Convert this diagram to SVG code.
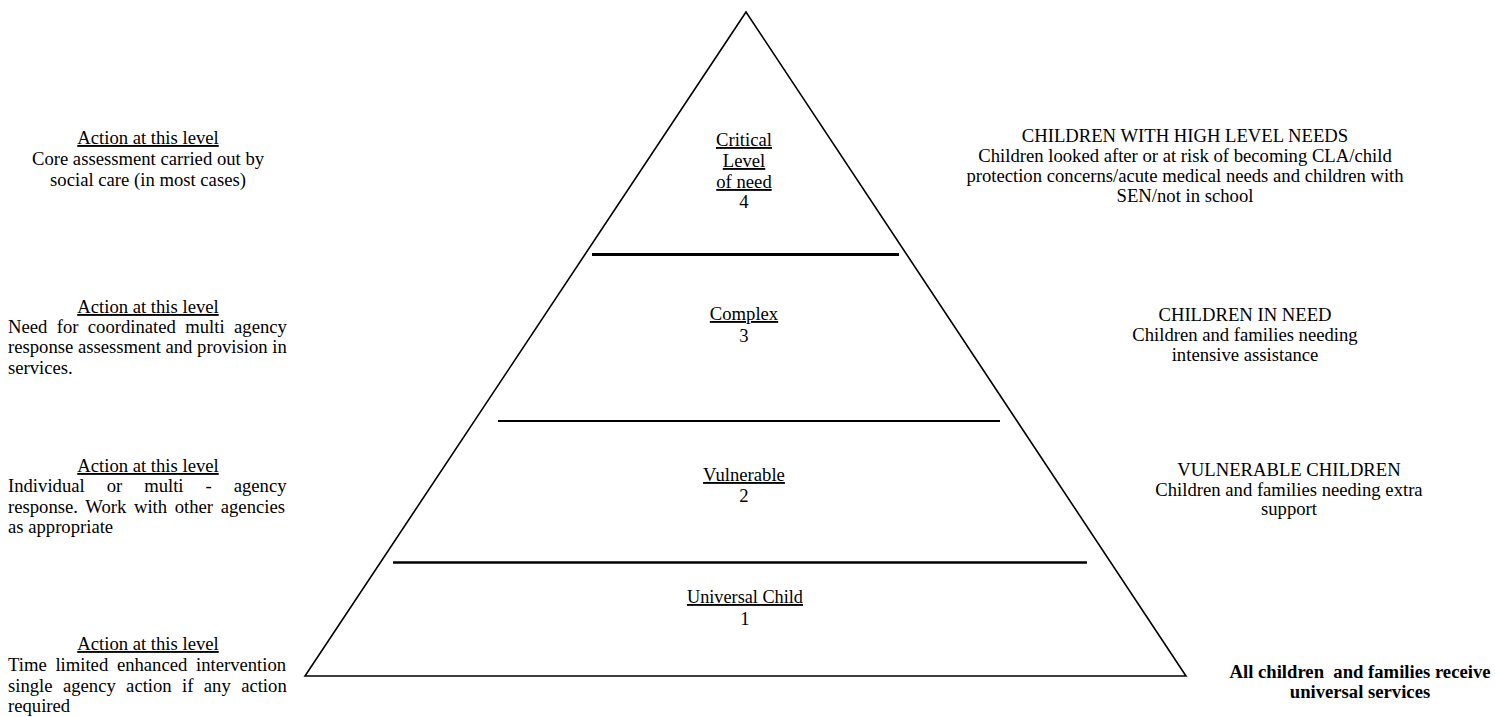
<svg xmlns="http://www.w3.org/2000/svg" width="1495" height="717" viewBox="0 0 1495 717">
<style>
text{font-family:"Liberation Serif","Times New Roman",serif;font-size:18.67px;fill:#000}
.c{text-anchor:middle}
.u{text-decoration:underline}
.b{font-weight:bold}
.edge{fill:none;stroke:#000;stroke-width:1.6}
.div{stroke:#000}
</style>
<rect width="1495" height="717" fill="#fff"/>
<g id="pyramid">
<polygon class="edge" points="746,12 305,676 1186,676"/>
</g>
<g id="dividers">
<line class="div" x1="592" y1="254.5" x2="899" y2="254.5" stroke-width="3"/>
<line class="div" x1="498" y1="421" x2="1000" y2="421" stroke-width="2"/>
<line class="div" x1="393" y1="562.5" x2="1087" y2="562.5" stroke-width="2.5"/>
</g>
<g id="level4">
<text class="c u" x="744" y="146">Critical</text>
<text class="c u" x="744" y="167">Level</text>
<text class="c u" x="744" y="188">of need</text>
<text class="c" x="744" y="208">4</text>
</g>
<g id="level3">
<text class="c u" x="744" y="320">Complex</text>
<text class="c" x="744" y="342">3</text>
</g>
<g id="level2">
<text class="c u" x="744" y="481">Vulnerable</text>
<text class="c" x="744" y="502">2</text>
</g>
<g id="level1">
<text class="c u" x="745" y="603" textLength="116" lengthAdjust="spacingAndGlyphs">Universal Child</text>
<text class="c" x="745" y="625">1</text>
</g>
<g id="action4">
<text class="c u" x="148" y="144">Action at this level</text>
<text class="c" x="148" y="165">Core assessment carried out by</text>
<text class="c" x="148" y="186">social care (in most cases)</text>
</g>
<g id="action3">
<text class="c u" x="148" y="313">Action at this level</text>
<text x="8" y="333" word-spacing="4.7">Need for coordinated multi agency</text>
<text x="8" y="353">response assessment and provision in</text>
<text x="8" y="374">services.</text>
</g>
<g id="action2">
<text class="c u" x="148" y="472">Action at this level</text>
<text x="8" y="492" word-spacing="17.3">Individual or multi - agency</text>
<text x="8" y="513" word-spacing="3">response. Work with other agencies</text>
<text x="8" y="533">as appropriate</text>
</g>
<g id="action1">
<text class="c u" x="148" y="650">Action at this level</text>
<text x="8" y="671" word-spacing="4">Time limited enhanced intervention</text>
<text x="8" y="692" word-spacing="5.7">single agency action if any action</text>
<text x="8" y="712">required</text>
</g>
<g id="needs4">
<text class="c" x="1185" y="142">CHILDREN WITH HIGH LEVEL NEEDS</text>
<text class="c" x="1185" y="162">Children looked after or at risk of becoming CLA/child</text>
<text class="c" x="1185" y="182">protection concerns/acute medical needs and children with</text>
<text class="c" x="1185" y="202">SEN/not in school</text>
</g>
<g id="needs3">
<text class="c" x="1245" y="321">CHILDREN IN NEED</text>
<text class="c" x="1245" y="341">Children and families needing</text>
<text class="c" x="1245" y="361">intensive assistance</text>
</g>
<g id="needs2">
<text class="c" x="1289" y="476">VULNERABLE CHILDREN</text>
<text class="c" x="1289" y="496">Children and families needing extra</text>
<text class="c" x="1289" y="515">support</text>
</g>
<g id="needs1">
<text class="c b" x="1360" y="678" xml:space="preserve">All children  and families receive</text>
<text class="c b" x="1360" y="698">universal services</text>
</g>
</svg>
